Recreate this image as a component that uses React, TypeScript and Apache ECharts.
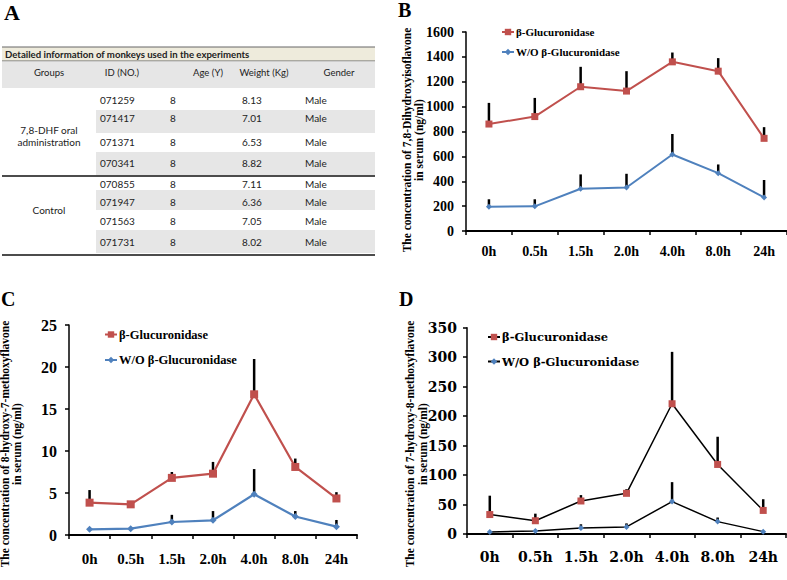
import React, { useEffect, useRef } from 'react';
import * as echarts from 'echarts';

// ---------- data ----------
const categories = ['0h', '0.5h', '1.5h', '2.0h', '4.0h', '8.0h', '24h'];
const seriesNames = ['β-Glucuronidase', 'W/O β-Glucuronidase'];

// Panel B: 7,8-Dihydroxyisoflavone
const bWith = [860, 920, 1160, 1125, 1360, 1285, 745];
const bWithErr = [170, 150, 160, 160, 75, 105, 90];
const bWithout = [195, 198, 340, 350, 615, 465, 270];
const bWithoutErr = [60, 57, 115, 110, 165, 70, 140];

// Panel C: 8-hydroxy-7-methoxyflavone
const cWith = [3.85, 3.65, 6.8, 7.3, 16.75, 8.1, 4.35];
const cWithErr = [1.5, 0.2, 0.7, 1.4, 4.2, 1.0, 0.75];
const cWithout = [0.68, 0.75, 1.55, 1.75, 4.85, 2.2, 0.99];
const cWithoutErr = [0.1, 0.1, 0.85, 1.1, 3.0, 0.65, 0.8];

// Panel D: 7-hydroxy-8-methoxyflavone
const dWith = [33, 22.5, 56, 69, 221, 118, 40];
const dWithErr = [32, 12, 10, 7, 88, 47, 19];
const dWithout = [3.4, 5, 10, 12, 55, 21, 4];
const dWithoutErr = [1, 1, 6.5, 6, 33, 7, 1];

// Panel A: table
const tableTitle = 'Detailed information of monkeys used in the experiments';
const tableHeaders = ['Groups', 'ID (NO.)', 'Age (Y)', 'Weight (Kg)', 'Gender'];
const groupNameLines = ['7,8-DHF oral', 'administration', 'Control'];
const monkeyIds = ['071259', '071417', '071371', '070341', '070855', '071947', '071563', '071731'];
const monkeyAges = ['8', '8', '8', '8', '8', '8', '8', '8'];
const monkeyWeights = ['8.13', '7.01', '6.53', '8.82', '7.11', '6.36', '7.05', '8.02'];
const monkeyGenders = ['Male', 'Male', 'Male', 'Male', 'Male', 'Male', 'Male', 'Male'];

const RED = '#c0504d';
const BLUE = '#4f81bd';
const SERIF = '"Liberation Serif", "Times New Roman", serif';
const DEJAVU = '"DejaVu Serif", serif';
const TABLE_FONT = 'Lato, "Open Sans", sans-serif';

function errorSeries(xi: number, values: number[], errs: number[], width: number) {
  return {
    type: 'custom',
    xAxisIndex: xi,
    yAxisIndex: xi,
    z: 2,
    silent: true,
    encode: { x: 0, y: [1, 2] },
    data: values.map((v, i) => [i, v, v + errs[i]]),
    renderItem: (params: any, api: any) => {
      const i = api.value(0);
      const p1 = api.coord([i, api.value(1)]);
      const p2 = api.coord([i, api.value(2)]);
      return {
        type: 'line',
        shape: { x1: p1[0], y1: p1[1], x2: p2[0], y2: p2[1] },
        style: { stroke: '#000', lineWidth: width },
      };
    },
  };
}

function lineSeries(name: string, xi: number, values: number[], color: string, lineColor: string, symbol: string, size: number, lw: number) {
  return {
    type: 'line',
    name,
    xAxisIndex: xi,
    yAxisIndex: xi,
    z: 3,
    data: values,
    symbol,
    symbolSize: size,
    showSymbol: true,
    itemStyle: { color, opacity: 1 },
    lineStyle: { color: lineColor, width: lw },
  };
}

function makeX(gi: number, fontSize: number, margin: number, family: string) {
  return {
    type: 'category',
    gridIndex: gi,
    data: categories,
    boundaryGap: true,
    axisLine: { lineStyle: { color: '#000', width: 2 } },
    axisTick: { show: true, length: 4, inside: false, lineStyle: { color: '#000', width: 1.5 } },
    axisLabel: { color: '#000', fontFamily: family, fontWeight: 'bold', fontSize, margin, interval: 0 },
    splitLine: { show: false },
  };
}

function makeY(gi: number, max: number, interval: number, fontSize: number, margin: number, family: string) {
  return {
    type: 'value',
    gridIndex: gi,
    min: 0,
    max,
    interval,
    axisLine: { show: true, lineStyle: { color: '#000', width: 1.5 } },
    axisTick: { show: true, length: 4, lineStyle: { color: '#000', width: 1.5 } },
    axisLabel: {
      color: '#000', fontFamily: family, fontWeight: 'bold', fontSize, margin,
      formatter: (v: number) => String(v),
    },
    splitLine: { show: false },
  };
}

function makeLegend(left: number, top: number, gap: number, fontSize: number, family: string, blackLine: boolean) {
  return {
    orient: 'vertical',
    left,
    top,
    padding: 0,
    itemGap: gap,
    itemWidth: 12,
    itemHeight: 8,
    selectedMode: false,
    textStyle: { color: '#000', fontFamily: family, fontWeight: 'bold', fontSize, padding: [0, 0, 0, -3] },
    data: blackLine
      ? [
          { name: seriesNames[0], lineStyle: { color: '#000' }, itemStyle: { color: RED } },
          { name: seriesNames[1], lineStyle: { color: '#000' }, itemStyle: { color: BLUE } },
        ]
      : [
          { name: seriesNames[0], lineStyle: { color: RED }, itemStyle: { color: RED } },
          { name: seriesNames[1], lineStyle: { color: BLUE }, itemStyle: { color: BLUE } },
        ],
  };
}

function buildTable(): any[] {
  const els: any[] = [];
  const L = 2;
  const R = 375;
  // title band
  els.push({ type: 'rect', shape: { x: L, y: 47, width: R - L, height: 14 }, style: { fill: '#eeebdc' } });
  els.push({ type: 'line', shape: { x1: L, y1: 47, x2: R, y2: 47 }, style: { stroke: '#666', lineWidth: 1 } });
  els.push({ type: 'line', shape: { x1: L, y1: 61, x2: R, y2: 61 }, style: { stroke: '#666', lineWidth: 1 } });
  els.push({
    type: 'text', x: 5, y: 54.5,
    style: { text: tableTitle, fill: '#222', font: `bold 9.6px ${TABLE_FONT}`, textVerticalAlign: 'middle' },
  });
  // column header band
  els.push({ type: 'rect', shape: { x: L, y: 61.5, width: R - L, height: 26.5 }, style: { fill: '#e6e6e6' } });
  const headerX = [49, 122, 208, 264, 339];
  tableHeaders.forEach((h, i) => {
    els.push({
      type: 'text', x: headerX[i], y: 72,
      style: { text: h, fill: '#222', font: `9.5px ${TABLE_FONT}`, textAlign: 'center', textVerticalAlign: 'middle' },
    });
  });
  // rows
  const rowTop = [88, 110, 133, 152, 177, 190, 210, 230];
  const rowH = [22, 23, 19, 23, 13, 20, 20, 23];
  const textY = [100, 118, 142, 163, 184, 202, 221, 242];
  const colX = [100, 170, 242, 305];
  monkeyIds.forEach((id, r) => {
    if (r % 2 === 1) {
      els.push({ type: 'rect', shape: { x: 96, y: rowTop[r], width: R - 96, height: rowH[r] }, style: { fill: '#e6e6e6' } });
    }
    const vals = [id, monkeyAges[r], monkeyWeights[r], monkeyGenders[r]];
    vals.forEach((v, c) => {
      els.push({
        type: 'text', x: colX[c], y: textY[r],
        style: { text: v, fill: '#222', font: `10px ${TABLE_FONT}`, textVerticalAlign: 'middle' },
      });
    });
  });
  // group labels
  const groupY = [129.5, 141.5, 210];
  groupNameLines.forEach((g, i) => {
    els.push({
      type: 'text', x: 49, y: groupY[i],
      style: { text: g, fill: '#222', font: `10px ${TABLE_FONT}`, textAlign: 'center', textVerticalAlign: 'middle' },
    });
  });
  // rules
  els.push({ type: 'line', shape: { x1: L, y1: 176, x2: R, y2: 176 }, style: { stroke: '#111', lineWidth: 1.5 } });
  els.push({ type: 'line', shape: { x1: L, y1: 255, x2: R, y2: 255 }, style: { stroke: '#111', lineWidth: 1.5 } });
  return els;
}

function axisName(x: number, y: number, text: string, fontSize: number, family: string, lh: number) {
  return {
    type: 'text',
    x,
    y,
    rotation: Math.PI / 2,
    style: {
      text,
      fill: '#000',
      font: `bold ${fontSize}px ${family}`,
      textAlign: 'center',
      textVerticalAlign: 'middle',
      lineHeight: lh,
    },
  };
}

function panelLetter(x: number, y: number, t: string, size: number) {
  return {
    type: 'text', x, y,
    style: { text: t, fill: '#000', font: `bold ${size}px ${SERIF}`, textVerticalAlign: 'top' },
  };
}

export default function App() {
  const ref = useRef<HTMLDivElement>(null);

  useEffect(() => {
    if (!ref.current) return;
    const chart = echarts.init(ref.current, undefined, { renderer: 'svg' });
    const option: any = {
      animation: false,
      backgroundColor: '#fff',
      grid: [
        { left: 466, top: 32, width: 325, height: 199 },
        { left: 69, top: 325, width: 288, height: 210 },
        { left: 467, top: 327.7, width: 319, height: 206.3 },
      ],
      xAxis: [makeX(0, 14, 13, SERIF), makeX(1, 15, 16, SERIF), makeX(2, 14, 16, DEJAVU)],
      yAxis: [makeY(0, 1600, 200, 14, 12, SERIF), makeY(1, 25, 5, 16, 12, SERIF), makeY(2, 350, 50, 14, 10, DEJAVU)],
      legend: [
        makeLegend(501, 26.5, 9, 11, SERIF, false),
        makeLegend(104, 328, 12.5, 12.5, SERIF, false),
        makeLegend(487, 331, 12.5, 11.5, DEJAVU, true),
      ],
      series: [
        errorSeries(0, bWith, bWithErr, 2.5),
        errorSeries(0, bWithout, bWithoutErr, 2.5),
        lineSeries(seriesNames[0], 0, bWith, RED, RED, 'rect', 7, 2),
        lineSeries(seriesNames[1], 0, bWithout, BLUE, BLUE, 'diamond', 6, 2),
        errorSeries(1, cWith, cWithErr, 2.5),
        errorSeries(1, cWithout, cWithoutErr, 2.5),
        lineSeries(seriesNames[0], 1, cWith, RED, RED, 'rect', 8, 2.2),
        lineSeries(seriesNames[1], 1, cWithout, BLUE, BLUE, 'diamond', 7, 2.2),
        errorSeries(2, dWith, dWithErr, 2.5),
        errorSeries(2, dWithout, dWithoutErr, 2.5),
        lineSeries(seriesNames[0], 2, dWith, RED, '#000', 'rect', 7, 1.5),
        lineSeries(seriesNames[1], 2, dWithout, BLUE, '#000', 'diamond', 6, 1.5),
      ],
      graphic: [
        ...buildTable(),
        panelLetter(4, 1, 'A', 22),
        panelLetter(398, 0, 'B', 20),
        panelLetter(1, 289, 'C', 20),
        panelLetter(399, 289, 'D', 20),
        axisName(413, 140, 'The concentration of 7,8-Dihydroxyisoflavone\nin serum (ng/ml)', 11.5, SERIF, 12.5),
        axisName(11, 444, 'The concentration of 8-hydroxy-7-methoxyflavone\nin serum (ng/ml)', 11.5, SERIF, 12.5),
        axisName(416, 444, 'The concentration of 7-hydroxy-8-methoxyflavone\nin serum (ng/ml)', 11.5, SERIF, 13),
      ],
    };
    chart.setOption(option);
    return () => chart.dispose();
  }, []);

  return <div ref={ref} style={{ position: 'fixed', left: 0, top: 0, width: 787, height: 580 }} />;
}
